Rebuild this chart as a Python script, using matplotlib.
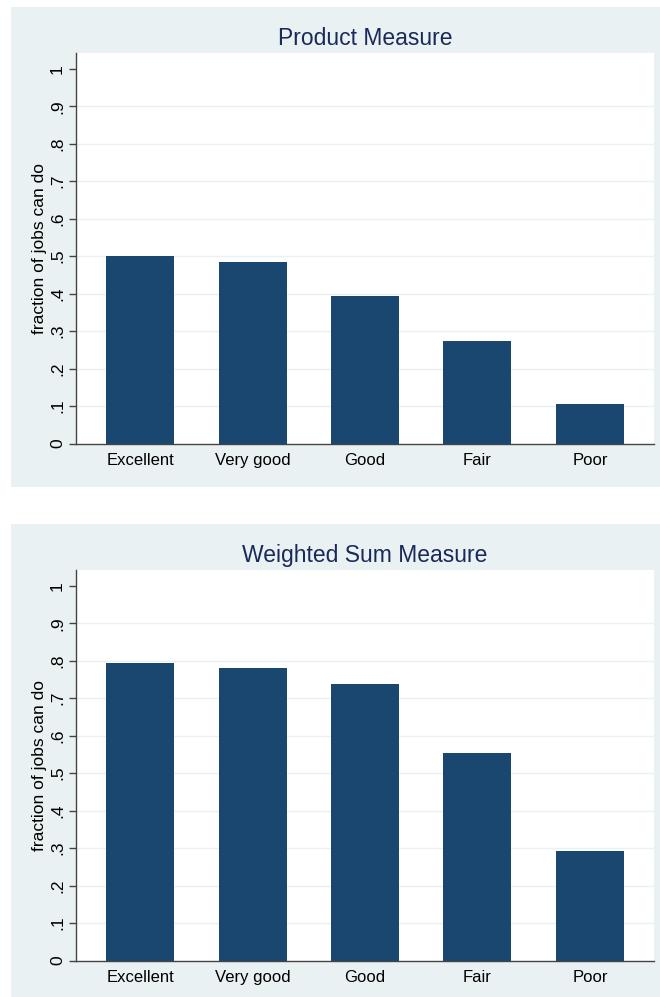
import matplotlib
matplotlib.use("Agg")
import matplotlib.pyplot as plt
from matplotlib.patches import Rectangle

plt.rcParams['font.family'] = ['Liberation Sans', 'DejaVu Sans']

categories = ["Excellent", "Very good", "Good", "Fair", "Poor"]
product_measure = [0.499, 0.483, 0.394, 0.273, 0.106]
weighted_sum_measure = [0.795, 0.781, 0.737, 0.554, 0.292]
titles = ["Product Measure", "Weighted Sum Measure"]
ytick_values = [0, 0.1, 0.2, 0.3, 0.4, 0.5, 0.6, 0.7, 0.8, 0.9, 1.0]
ytick_labels = ["0", ".1", ".2", ".3", ".4", ".5", ".6", ".7", ".8", ".9", "1"]
ylabel = "fraction of jobs can do"

W, H = 660, 997
BG = "#eaf1f3"
BAR = "#1a476f"
TITLE = "#1a2a58"
AXIS = "#444444"
GRID = "#eaf1f3"

fig = plt.figure(figsize=(W / 100, H / 100), dpi=100)
fig.patch.set_facecolor("white")

def fx(px):
    return px / W

def fy(py):
    return 1 - py / H

# graph regions (pixel boxes: left, top, right, bottom)
regions = [(11, 7, 660, 487), (11, 524, 660, 997)]
plot_boxes = [(76, 53, 654, 443.5), (76, 570, 654, 960.5)]

for (l, t, r, b) in regions:
    fig.patches.append(Rectangle((fx(l), fy(b)), fx(r - l), (b - t) / H,
                                 transform=fig.transFigure, facecolor=BG,
                                 edgecolor="none", zorder=-10))

for (l, t, r, b), values, title in zip(plot_boxes,
                                       [product_measure, weighted_sum_measure],
                                       titles):
    ax = fig.add_axes([fx(l), fy(b), fx(r - l), (b - t) / H])
    ax.set_zorder(1)
    ax.set_facecolor("white")
    x = list(range(len(categories)))
    for v in ytick_values[1:-1]:
        ax.axhline(v, color=GRID, linewidth=1.0, zorder=1)
    ax.bar(x, values, width=0.605, color=BAR, zorder=2)
    ax.set_xlim(-0.57, 4.57)
    ax.set_ylim(0, 1.042)
    ax.set_xticks(x)
    ax.set_xticklabels(categories, fontsize=12, color="black")
    ax.tick_params(axis="x", length=0, pad=6.5)
    ax.set_yticks(ytick_values)
    ax.set_yticklabels(ytick_labels, fontsize=12.5, rotation=90, va="center")
    ax.tick_params(axis="y", length=5, width=1, color=AXIS, pad=3)
    for s in ("top", "right"):
        ax.spines[s].set_visible(False)
    for s in ("left", "bottom"):
        ax.spines[s].set_color(AXIS)
        ax.spines[s].set_linewidth(1.0)
    ax.set_ylabel(ylabel, fontsize=12.5, labelpad=2)
    ax.set_title(title, fontsize=16.5, color=TITLE, pad=5.5)

fig.savefig("out.png", dpi=100, facecolor="white")
